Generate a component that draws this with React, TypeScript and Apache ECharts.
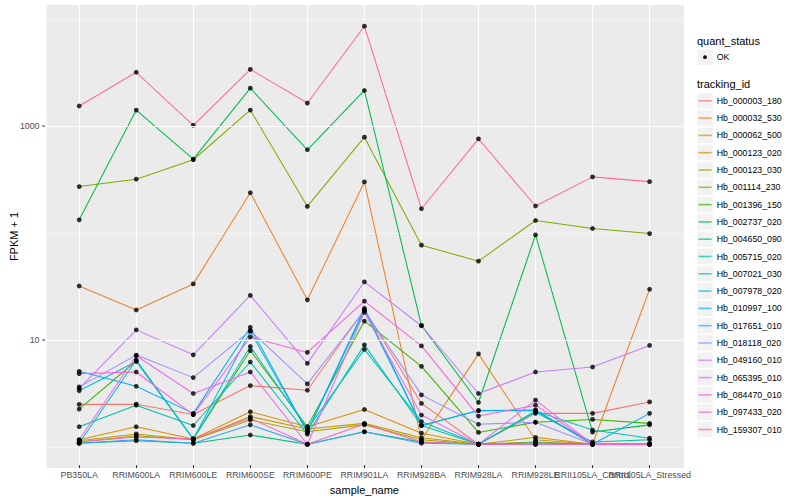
import React, { useEffect, useRef } from "react";
import * as echarts from "echarts";

const FONT = "'Liberation Sans', Arial, Helvetica, sans-serif";

const categories = [
  "PB350LA",
  "RRIM600LA",
  "RRIM600LE",
  "RRIM600SE",
  "RRIM600PE",
  "RRIM901LA",
  "RRIM928BA",
  "RRIM928LA",
  "RRIM928LE",
  "RRII105LA_Control",
  "RRII105LA_Stressed",
];

const trackingIds = [
  "Hb_000003_180",
  "Hb_000032_530",
  "Hb_000062_500",
  "Hb_000123_020",
  "Hb_000123_030",
  "Hb_001114_230",
  "Hb_001396_150",
  "Hb_002737_020",
  "Hb_004650_090",
  "Hb_005715_020",
  "Hb_007021_030",
  "Hb_007978_020",
  "Hb_010997_100",
  "Hb_017651_010",
  "Hb_018118_020",
  "Hb_049160_010",
  "Hb_065395_010",
  "Hb_084470_010",
  "Hb_097433_020",
  "Hb_159307_010",
];

const colors = [
  "#F8766D", "#EA8331", "#D89000", "#C09B00", "#A3A500",
  "#7CAE00", "#39B600", "#00BB4E", "#00BF7D", "#00C1A3",
  "#00BFC4", "#00BAE0", "#00B0F6", "#35A2FF", "#9590FF",
  "#C77CFF", "#E76BF3", "#FA62DB", "#FF62BC", "#FF6C91",
];

// FPKM + 1 values per tracking id, one per sample
const hb_000003_180 = [2.37, 2.38, 1.9, 3.56, 3.22, 18.5, 2.42, 1.0, 1.95, 1.95, 2.5];
const hb_000032_530 = [30.8, 18.3, 32.2, 232, 22.8, 293, 1.1, 7.08, 1.1, 1.0, 28.7];
const hb_000062_500 = [1.1, 1.46, 1.12, 2.02, 1.46, 2.12, 1.27, 1.0, 1.0, 1.0, 1.0];
const hb_000123_020 = [1.08, 1.25, 1.1, 1.82, 1.39, 1.57, 1.15, 1.0, 1.16, 1.0, 1.0];
const hb_000123_030 = [1.05, 1.2, 1.1, 1.69, 1.31, 1.52, 1.1, 1.0, 1.05, 1.0, 1.0];
const hb_001114_230 = [265, 311, 474, 1390, 172.5, 773, 74.5, 52.7, 127, 107, 95.8];
const hb_001396_150 = [2.14, 6.06, 1.12, 7.6, 1.46, 14.4, 5.4, 1.29, 1.61, 1.71, 1.57];
const hb_002737_020 = [129, 1390, 481, 2233, 588, 2125, 13.1, 2.47, 93, 1.3, 1.52];
const hb_004650_090 = [1.02, 1.08, 1.02, 1.22, 1.0, 1.31, 1.05, 1.0, 1.03, 1.0, 1.0];
const hb_005715_020 = [1.46, 2.33, 1.5, 5.93, 1.24, 8.6, 1.5, 1.0, 2.0, 1.05, 1.1];
const hb_007021_030 = [1.02, 6.2, 1.12, 8.3, 1.39, 7.8, 1.63, 1.0, 2.05, 1.36, 1.14];
const hb_007978_020 = [3.18, 6.0, 1.12, 11.5, 1.3, 18.0, 1.5, 2.07, 2.1, 1.0, 1.0];
const hb_010997_100 = [4.85, 3.51, 1.95, 12.6, 1.3, 19.0, 1.5, 2.07, 2.07, 1.0, 1.95];
const hb_017651_010 = [1.02, 1.1, 1.02, 1.52, 1.0, 1.31, 1.02, 1.0, 1.0, 1.0, 1.0];
const hb_018118_020 = [3.46, 6.89, 4.23, 11.7, 3.69, 18.0, 2.91, 1.54, 1.61, 1.0, 1.0];
const hb_049160_010 = [3.34, 11.9, 6.93, 25.1, 5.76, 33.7, 13.0, 3.0, 4.78, 5.32, 8.5];
const hb_065395_010 = [1.1, 6.79, 3.0, 4.78, 1.0, 17.4, 1.88, 1.0, 2.6, 1.0, 1.0];
const hb_084470_010 = [4.61, 4.78, 1.9, 10.2, 7.3, 22.2, 8.4, 1.84, 2.33, 1.0, 1.0];
const hb_097433_020 = [1.05, 1.17, 1.12, 1.75, 1.0, 1.55, 1.05, 1.0, 1.0, 1.0, 1.0];
const hb_159307_010 = [1517, 3150, 1000, 3360, 1618, 8550, 164, 745, 174, 327, 295];

const seriesValues = [
  hb_000003_180, hb_000032_530, hb_000062_500, hb_000123_020, hb_000123_030,
  hb_001114_230, hb_001396_150, hb_002737_020, hb_004650_090, hb_005715_020,
  hb_007021_030, hb_007978_020, hb_010997_100, hb_017651_010, hb_018118_020,
  hb_049160_010, hb_065395_010, hb_084470_010, hb_097433_020, hb_159307_010,
];

const yMajorTicks = [10, 1000];
const yMajorLabels = ["10", "1000"];
const quantStatus = ["OK"];

const Y_MIN = 0.636;
const Y_MAX = 13530;

export default function App() {
  const ref = useRef<HTMLDivElement>(null);

  useEffect(() => {
    if (!ref.current) return;
    const chart = echarts.init(ref.current, undefined, { renderer: "svg" });

    const lineSeries = trackingIds.map((id, i) => ({
      name: id,
      type: "line",
      xAxisIndex: 1,
      yAxisIndex: 1,
      data: seriesValues[i],
      symbol: "none",
      lineStyle: { color: colors[i], width: 1.05 },
      itemStyle: { color: colors[i] },
      z: 2,
      silent: true,
      emphasis: { disabled: true },
    }));

    const pointData: [number, number][] = [];
    seriesValues.forEach((vals) => vals.forEach((v, j) => pointData.push([j, v])));

    const option: any = {
      animation: false,
      backgroundColor: "#FFFFFF",
      textStyle: { fontFamily: FONT },
      grid: [
        { left: 45, top: 5, width: 639, height: 463, show: true, backgroundColor: "#EBEBEB", borderWidth: 0 },
        { left: 79.2, top: 5, width: 570.4, height: 463, show: false },
      ],
      xAxis: [
        { gridIndex: 0, type: "value", min: 0, max: 1, show: false },
        {
          gridIndex: 1,
          type: "category",
          data: categories,
          boundaryGap: false,
          axisLine: { show: false },
          axisTick: { show: true, length: 3, lineStyle: { color: "#333333", width: 1.07 } },
          axisLabel: { interval: 0, hideOverlap: false, color: "#4D4D4D", fontSize: 8.8, margin: 5, fontFamily: FONT },
          splitLine: { show: true, lineStyle: { color: "#FFFFFF", width: 1.07 } },
          name: "sample_name",
          nameLocation: "middle",
          nameGap: 12.5,
          nameTextStyle: { color: "#000000", fontSize: 11, fontFamily: FONT },
        },
      ],
      yAxis: [
        {
          gridIndex: 0,
          type: "log",
          logBase: 10,
          min: Y_MIN,
          max: Y_MAX,
          axisLine: { show: false },
          axisTick: { show: false },
          axisLabel: { show: false },
          splitLine: {
            show: true,
            showMinLine: false,
            showMaxLine: false,
            lineStyle: { color: "#FFFFFF", width: 0.53 },
          },
          name: "FPKM + 1",
          nameLocation: "middle",
          nameGap: 27.5,
          nameTextStyle: { color: "#000000", fontSize: 11, fontFamily: FONT },
        },
        { gridIndex: 1, type: "log", logBase: 10, min: Y_MIN, max: Y_MAX, show: false },
      ],
      series: [
        {
          type: "line",
          xAxisIndex: 0,
          yAxisIndex: 0,
          data: [],
          silent: true,
          z: 1,
          markLine: {
            silent: true,
            symbol: ["none", "none"],
            label: { show: false },
            lineStyle: { color: "#FFFFFF", width: 1.07, type: "solid" },
            emphasis: { disabled: true },
            data: yMajorTicks.map((v) => ({ yAxis: v })),
          },
        },
        ...lineSeries,
        {
          type: "scatter",
          xAxisIndex: 1,
          yAxisIndex: 1,
          data: pointData,
          symbol: "circle",
          symbolSize: 4.8,
          itemStyle: { color: "#000000" },
          z: 3,
          silent: true,
          emphasis: { disabled: true },
        },
      ],
    };

    chart.setOption(option);

    const els: any[] = [];
    yMajorTicks.forEach((v, k) => {
      const py = chart.convertToPixel({ yAxisIndex: 0 }, v) as number;
      els.push({
        type: "line",
        silent: true,
        shape: { x1: 42.3, y1: py, x2: 45, y2: py },
        style: { stroke: "#333333", lineWidth: 1.07 },
      });
      els.push({
        type: "text",
        silent: true,
        x: 39.5,
        y: Math.round(py),
        style: {
          text: yMajorLabels[k],
          fontSize: 8.8,
          fill: "#4D4D4D",
          align: "right",
          verticalAlign: "middle",
          fontFamily: FONT,
        },
      });
    });

    const lx = 697.3;
    const tx = 716.7;
    const key = 15.5;
    els.push({
      type: "text",
      x: 697,
      y: 40.7,
      style: { text: "quant_status", fontSize: 11, fill: "#000000", verticalAlign: "middle", fontFamily: FONT },
    });
    quantStatus.forEach((q, i) => {
      const cy = 57.2 + i * 17.3;
      els.push({ type: "rect", shape: { x: lx, y: cy - key / 2, width: key, height: key }, style: { fill: "#F2F2F2" } });
      els.push({ type: "circle", shape: { cx: lx + key / 2, cy, r: 1.9 }, style: { fill: "#000000" } });
      els.push({
        type: "text",
        x: tx,
        y: cy,
        style: { text: q, fontSize: 8.8, fill: "#000000", verticalAlign: "middle", fontFamily: FONT },
      });
    });
    els.push({
      type: "text",
      x: 697,
      y: 84.3,
      style: { text: "tracking_id", fontSize: 11, fill: "#000000", verticalAlign: "middle", fontFamily: FONT },
    });
    trackingIds.forEach((id, i) => {
      const cy = 100.8 + i * 17.3;
      els.push({ type: "rect", shape: { x: lx, y: cy - key / 2, width: key, height: key }, style: { fill: "#F2F2F2" } });
      els.push({
        type: "line",
        shape: { x1: lx + 1.2, y1: cy, x2: lx + key - 1.2, y2: cy },
        style: { stroke: colors[i], lineWidth: 1.6, opacity: 0.7 },
      });
      els.push({
        type: "text",
        x: tx,
        y: cy,
        style: { text: id, fontSize: 8.8, fill: "#000000", verticalAlign: "middle", fontFamily: FONT },
      });
    });

    chart.setOption({ graphic: { elements: els } });

    return () => chart.dispose();
  }, []);

  return (
    <div
      ref={ref}
      style={{ position: "fixed", left: 0, top: 0, width: 800, height: 500, background: "#FFFFFF" }}
    />
  );
}
